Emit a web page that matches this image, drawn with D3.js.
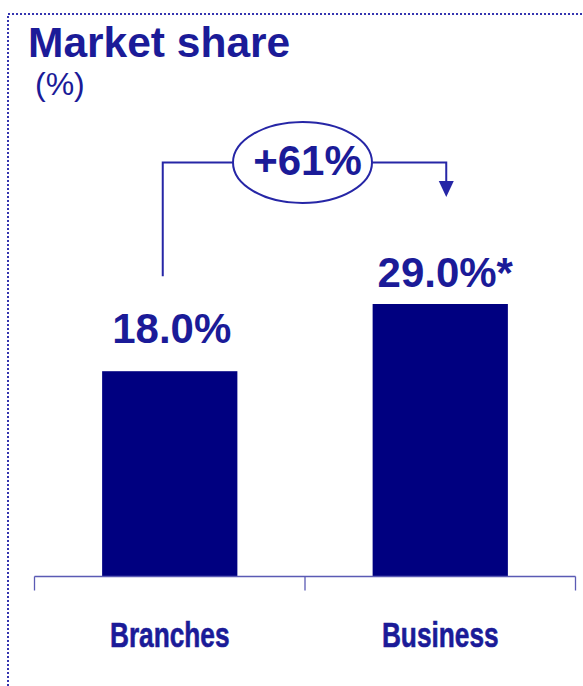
<!DOCTYPE html>
<html>
    <head>
        <meta charset="utf-8">
        <script src="https://d3js.org/d3.v7.min.js"></script>
        <style>
            body { margin: 0; background: #fff; }
            text { font-family: "Liberation Sans", Arial, sans-serif; }
        </style>
    </head>

    <body>
        <script>

        // chart data
        var categories = ["Branches", "Business"];
        var shares = [18.0, 29.0];
        var footnoteMarks = ["", "*"];
        var growthLabel = "+61%";

        var width = 583,
            height = 686;

        var navy = "#000080",
            textColor = "#1b1b98",
            lineColor = "#2626a6";

        var svg = d3.select("body").append("svg")
            .attr("width", width)
            .attr("height", height);

        // dotted frame on top and left
        svg.append("path")
            .attr("d", "M8,686 L8,14 L583,14")
            .attr("fill", "none")
            .attr("stroke", "#3535b0")
            .attr("stroke-width", 2)
            .attr("stroke-dasharray", "2,2");

        svg.append("text")
            .attr("x", 28)
            .attr("y", 57)
            .attr("fill", textColor)
            .attr("font-size", 42.5)
            .attr("font-weight", "bold")
            .text("Market share");

        svg.append("text")
            .attr("x", 35)
            .attr("y", 95)
            .attr("fill", textColor)
            .attr("font-size", 32)
            .text("(%)");

        var x = d3.scaleBand()
            .domain(categories)
            .range([34.5, 575.5])
            .paddingInner(0.5)
            .paddingOuter(0.25);

        // baseline of the bars is not at zero in the original slide
        var y = d3.scaleLinear()
            .domain([-15.6, 29])
            .range([576.5, 304]);

        var baseY = y.range()[0];

        svg.append("g")
            .selectAll("rect")
            .data(shares)
            .enter().append("rect")
            .attr("x", function(d, i) { return x(categories[i]); })
            .attr("y", function(d) { return y(d); })
            .attr("width", x.bandwidth())
            .attr("height", function(d) { return baseY - y(d); })
            .attr("fill", navy);

        // axis line with ticks at the category boundaries
        var step = x.step();
        var x0 = x.range()[0];
        svg.append("line")
            .attr("x1", x0).attr("x2", x.range()[1])
            .attr("y1", baseY).attr("y2", baseY)
            .attr("stroke", "#5a5ab4")
            .attr("stroke-width", 1.3);

        svg.append("g")
            .selectAll("line")
            .data(d3.range(categories.length + 1))
            .enter().append("line")
            .attr("x1", function(i) { return x0 + i * step; })
            .attr("x2", function(i) { return x0 + i * step; })
            .attr("y1", baseY)
            .attr("y2", baseY + 14)
            .attr("stroke", "#5a5ab4")
            .attr("stroke-width", 1.3);

        var axis = svg.append("g")
            .attr("transform", "translate(0," + baseY + ")")
            .call(d3.axisBottom(x).tickSize(0));
        axis.select(".domain").remove();
        axis.selectAll("text")
            .attr("y", 70.5)
            .attr("dy", 0)
            .attr("fill", textColor)
            .attr("font-size", 35)
            .attr("font-weight", "bold")
            .attr("font-family", "'Liberation Sans', Arial, sans-serif")
            .attr("stroke", textColor)
            .attr("stroke-width", 0.6)
            .attr("transform", "scale(0.75,1)");

        // value labels
        var labelGap = [28, 17];
        var labelShift = [2, 5];
        svg.append("g")
            .selectAll("text")
            .data(shares)
            .enter().append("text")
            .attr("x", function(d, i) { return x(categories[i]) + x.bandwidth() / 2 + labelShift[i]; })
            .attr("y", function(d, i) { return y(d) - labelGap[i]; })
            .attr("text-anchor", "middle")
            .attr("fill", textColor)
            .attr("font-size", 42)
            .attr("font-weight", "bold")
            .text(function(d, i) { return d3.format(".1f")(d) + "%" + footnoteMarks[i]; });

        // growth bracket between the bars
        var leftX = x(categories[0]) + x.bandwidth() / 2 - 7,
            rightX = x(categories[1]) + x.bandwidth() / 2 + 6,
            topY = 162.5,
            startY = y(shares[0]) - 95,
            tipY = y(shares[1]) - 107;
        var cx = (leftX + rightX) / 2 - 2,
            rx = 69.5,
            ry = 40.5;

        svg.append("path")
            .attr("d", "M" + leftX + "," + startY + " L" + leftX + "," + topY + " L" + (cx - rx) + "," + topY)
            .attr("fill", "none")
            .attr("stroke", lineColor)
            .attr("stroke-width", 2);

        svg.append("path")
            .attr("d", "M" + (cx + rx) + "," + topY + " L" + rightX + "," + topY + " L" + rightX + "," + (tipY - 14))
            .attr("fill", "none")
            .attr("stroke", lineColor)
            .attr("stroke-width", 2);

        svg.append("path")
            .attr("d", "M" + (rightX - 7.5) + "," + (tipY - 16) + " L" + (rightX + 7.5) + "," + (tipY - 16) + " L" + rightX + "," + tipY + " Z")
            .attr("fill", lineColor);

        svg.append("ellipse")
            .attr("cx", cx)
            .attr("cy", topY)
            .attr("rx", rx)
            .attr("ry", ry)
            .attr("fill", "#fff")
            .attr("stroke", lineColor)
            .attr("stroke-width", 2);

        svg.append("text")
            .attr("x", cx + 5)
            .attr("y", 175)
            .attr("text-anchor", "middle")
            .attr("fill", textColor)
            .attr("font-size", 42)
            .attr("font-weight", "bold")
            .text(growthLabel);

        </script>
    </body>
</html>
